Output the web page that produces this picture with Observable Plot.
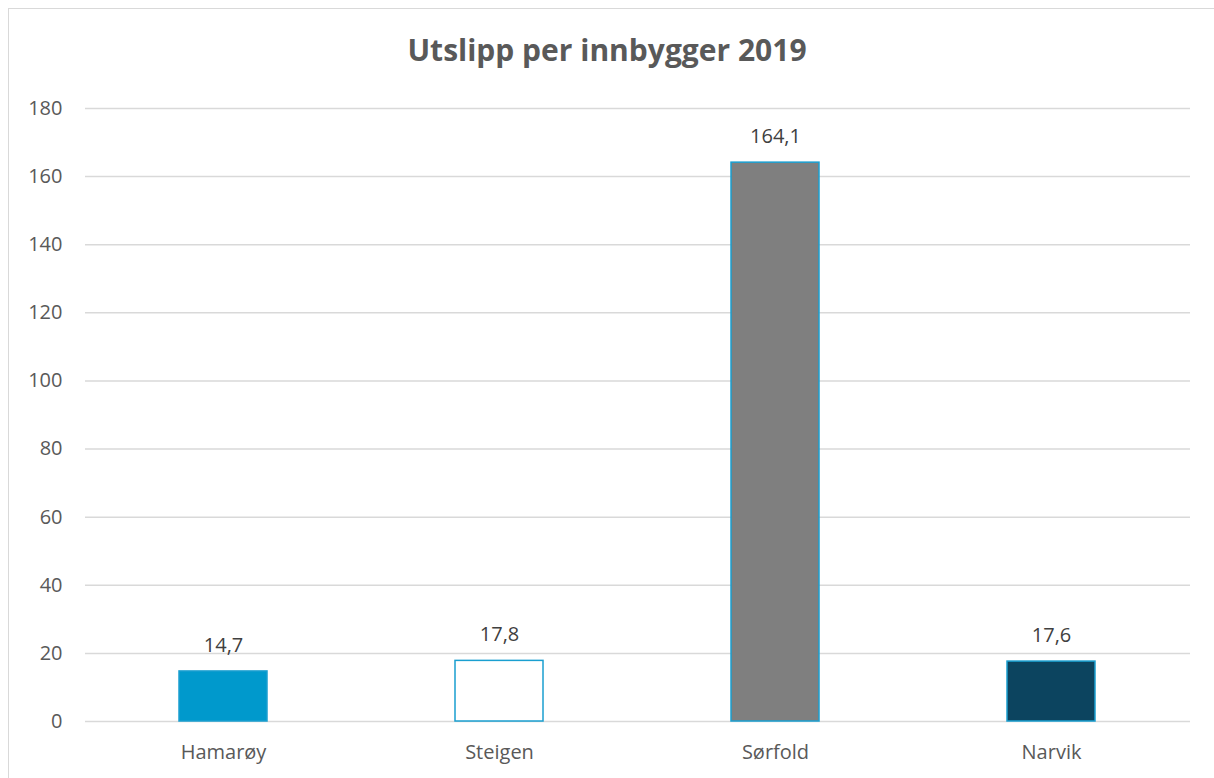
<!DOCTYPE html>
<html>
<head>
<meta charset="utf-8">
<script src="https://cdn.jsdelivr.net/npm/d3@7"></script>
<script src="https://cdn.jsdelivr.net/npm/@observablehq/plot@0.6"></script>
<style>
  html, body { margin: 0; padding: 0; background: #fff; }
  body { width: 1214px; height: 778px; position: relative; overflow: hidden; font-family: "Open Sans", sans-serif; }
  #frame { position: absolute; left: 8px; top: 8px; width: 1230px; height: 800px; border: 1.5px solid #d9d9d9; box-sizing: border-box; }
  #title { position: absolute; left: 0; width: 1214px; top: 30px; text-align: center; font-size: 30px; font-weight: bold; color: #595959; line-height: 40px; }
  #chart { position: absolute; left: 0; top: 0; }
</style>
</head>
<body>
<div id="frame"></div>
<div id="title">Utslipp per innbygger 2019</div>
<div id="chart"></div>
<script>
const categories = ["Hamarøy", "Steigen", "Sørfold", "Narvik"];
const values = [14.7, 17.8, 164.1, 17.6];
const fills = ["#0099cc", "#ffffff", "#7f7f7f", "#0c445f"];
const yTicks = [0, 20, 40, 60, 80, 100, 120, 140, 160, 180];

const data = categories.map((c, i) => ({ name: c, value: values[i], fill: fills[i] }));
const fmt = v => v.toFixed(1).replace(".", ",");

const plot = Plot.plot({
  width: 1214,
  height: 778,
  marginLeft: 85,
  marginRight: 24,
  marginTop: 108,
  marginBottom: 57,
  style: { fontFamily: "'Open Sans', sans-serif", fontSize: "20px", color: "#595959", background: "transparent" },
  x: { domain: categories, paddingInner: 0.68, paddingOuter: 0.34, align: 0.5, label: null },
  y: { domain: [0, 180], label: null },
  marks: [
    Plot.ruleY(yTicks, { stroke: "#d9d9d9", strokeWidth: 1.5 }),
    Plot.barY(data, { x: "name", y: "value", fill: "fill", stroke: "#1a9fd0", strokeWidth: 1.5 }),
    Plot.text(data, { x: "name", y: "value", text: d => fmt(d.value), dy: -26, fill: "#404040", fontSize: 20 }),
    Plot.axisY({ ticks: yTicks, tickSize: 0, tickPadding: 23, fontSize: 20, fill: "#595959", label: null }),
    Plot.axisX({ tickSize: 0, tickPadding: 23, fontSize: 20, fill: "#595959", label: null })
  ]
});
document.getElementById("chart").appendChild(plot);
</script>
</body>
</html>
